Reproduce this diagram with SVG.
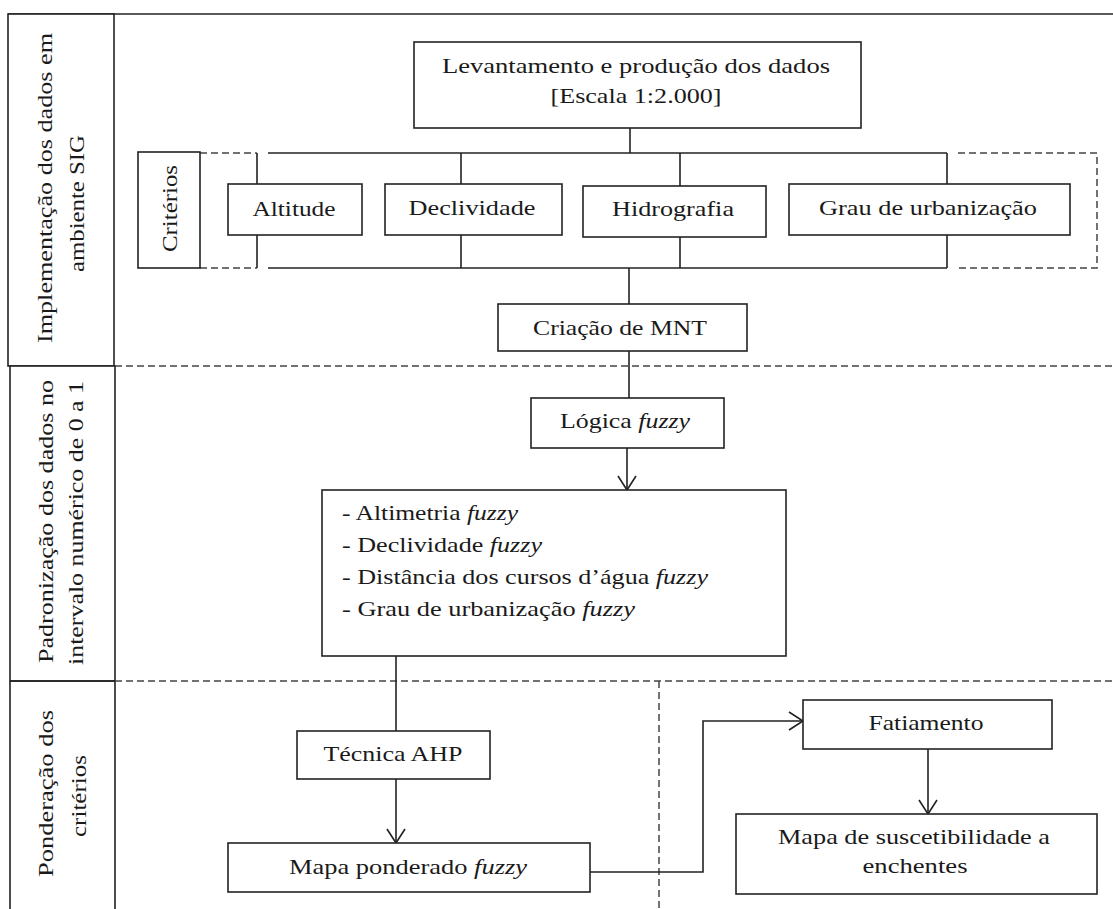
<svg xmlns="http://www.w3.org/2000/svg" width="1113" height="909" viewBox="0 0 1113 909">
<style>
  .box{fill:#fff;stroke:#222;stroke-width:1.6}
  .ln{fill:none;stroke:#222;stroke-width:1.6}
  .dash{fill:none;stroke:#444;stroke-width:1.5;stroke-dasharray:7 4}
  .t{font-family:'Liberation Serif','Times New Roman',Times,serif;font-size:22px;fill:#1a1a1a}
  .c{text-anchor:middle}
  .i{font-style:italic}
</style>
<defs>
  <marker id="arr" markerUnits="userSpaceOnUse" markerWidth="20" markerHeight="22" viewBox="-16 -11 18 22" refX="0" refY="0" orient="auto">
    <path d="M-14,-9 L0,0 L-14,9" fill="none" stroke="#222" stroke-width="1.6"/>
  </marker>
</defs>
<rect width="1113" height="909" fill="#fff"/>

<g id="frame">
  <line class="ln" x1="8" y1="14" x2="1113" y2="14"/>
  <rect class="box" x="8" y="14" width="106" height="352"/>
  <rect class="box" x="10" y="366" width="105" height="315"/>
  <path class="ln" d="M10,681 H115 M10,681 V909 M115,681 V909"/>
  <line class="dash" x1="115" y1="366" x2="1113" y2="366"/>
  <line class="dash" x1="115" y1="681" x2="1113" y2="681"/>
  <line class="dash" x1="659" y1="681" x2="659" y2="909"/>
</g>

<g id="lane1">
  <text class="t" transform="translate(52,343) rotate(-90)" textLength="310" lengthAdjust="spacingAndGlyphs">Implementação dos dados em</text>
  <text class="t" transform="translate(84,272) rotate(-90)" textLength="137" lengthAdjust="spacingAndGlyphs">ambiente SIG</text>
</g>
<g id="lane2">
  <text class="t" transform="translate(53,663) rotate(-90)" textLength="283" lengthAdjust="spacingAndGlyphs">Padronização dos dados no</text>
  <text class="t" transform="translate(83,665) rotate(-90)" textLength="284" lengthAdjust="spacingAndGlyphs">intervalo numérico de 0 a 1</text>
</g>
<g id="lane3">
  <text class="t" transform="translate(53,877) rotate(-90)" textLength="167" lengthAdjust="spacingAndGlyphs">Ponderação dos</text>
  <text class="t" transform="translate(86,837) rotate(-90)" textLength="82" lengthAdjust="spacingAndGlyphs">critérios</text>
</g>

<g id="connectors">
  <line class="ln" x1="630" y1="128" x2="630" y2="153"/>
  <line class="ln" x1="268" y1="153" x2="947" y2="153"/>
  <line class="ln" x1="268" y1="268" x2="947" y2="268"/>
  <path class="dash" d="M200,153 H257 M200,268 H257"/>
  <path class="dash" d="M958,153 H1097 V268 H958"/>
  <path class="ln" d="M257,153 V184 M257,235 V268"/>
  <path class="ln" d="M461,153 V184 M461,235 V268"/>
  <path class="ln" d="M680,153 V186 M680,237 V268"/>
  <path class="ln" d="M947,153 V184 M947,235 V268"/>
  <line class="ln" x1="629" y1="268" x2="629" y2="304"/>
  <line class="ln" x1="629" y1="351" x2="629" y2="398"/>
  <line class="ln" x1="627" y1="448" x2="627" y2="490" marker-end="url(#arr)"/>
  <line class="ln" x1="396" y1="656" x2="396" y2="731"/>
  <line class="ln" x1="396" y1="779" x2="396" y2="843" marker-end="url(#arr)"/>
  <path class="ln" d="M590,872 H703 V721 H803" marker-end="url(#arr)"/>
  <line class="ln" x1="928" y1="749" x2="928" y2="814" marker-end="url(#arr)"/>
</g>

<g id="levantamento">
  <rect class="box" x="414" y="42" width="447" height="86"/>
  <text class="t c" x="636" y="73" textLength="388" lengthAdjust="spacingAndGlyphs">Levantamento e produção dos dados</text>
  <text class="t c" x="636" y="103" textLength="171" lengthAdjust="spacingAndGlyphs">[Escala 1:2.000]</text>
</g>
<g id="criterios">
  <rect class="box" x="138" y="152" width="62" height="116"/>
  <text class="t" transform="translate(177,252) rotate(-90)" textLength="87" lengthAdjust="spacingAndGlyphs">Critérios</text>
</g>
<g id="altitude">
  <rect class="box" x="228" y="184" width="134" height="51"/>
  <text class="t c" x="294" y="216" textLength="83" lengthAdjust="spacingAndGlyphs">Altitude</text>
</g>
<g id="declividade">
  <rect class="box" x="385" y="184" width="177" height="51"/>
  <text class="t c" x="472" y="215" textLength="127" lengthAdjust="spacingAndGlyphs">Declividade</text>
</g>
<g id="hidrografia">
  <rect class="box" x="583" y="186" width="183" height="51"/>
  <text class="t c" x="673" y="216" textLength="122" lengthAdjust="spacingAndGlyphs">Hidrografia</text>
</g>
<g id="grau">
  <rect class="box" x="789" y="184" width="281" height="51"/>
  <text class="t c" x="928" y="215" textLength="218" lengthAdjust="spacingAndGlyphs">Grau de urbanização</text>
</g>
<g id="mnt">
  <rect class="box" x="498" y="304" width="249" height="47"/>
  <text class="t c" x="620" y="335" textLength="174" lengthAdjust="spacingAndGlyphs">Criação de MNT</text>
</g>
<g id="logica">
  <rect class="box" x="531" y="398" width="193" height="50"/>
  <text class="t" x="560" y="428" textLength="130" lengthAdjust="spacingAndGlyphs">Lógica <tspan class="i">fuzzy</tspan></text>
</g>
<g id="padronizados">
  <rect class="box" x="322" y="490" width="464" height="166"/>
  <text class="t" x="342" y="520" textLength="176" lengthAdjust="spacingAndGlyphs">- Altimetria <tspan class="i">fuzzy</tspan></text>
  <text class="t" x="342" y="552" textLength="200" lengthAdjust="spacingAndGlyphs">- Declividade <tspan class="i">fuzzy</tspan></text>
  <text class="t" x="342" y="584" textLength="366" lengthAdjust="spacingAndGlyphs">- Distância dos cursos d’água <tspan class="i">fuzzy</tspan></text>
  <text class="t" x="342" y="616" textLength="293" lengthAdjust="spacingAndGlyphs">- Grau de urbanização <tspan class="i">fuzzy</tspan></text>
</g>
<g id="ahp">
  <rect class="box" x="297" y="731" width="193" height="48"/>
  <text class="t c" x="393" y="761" textLength="139" lengthAdjust="spacingAndGlyphs">Técnica AHP</text>
</g>
<g id="mapa-ponderado">
  <rect class="box" x="228" y="843" width="362" height="49"/>
  <text class="t" x="289" y="874" textLength="238" lengthAdjust="spacingAndGlyphs">Mapa ponderado <tspan class="i">fuzzy</tspan></text>
</g>
<g id="fatiamento">
  <rect class="box" x="803" y="700" width="249" height="49"/>
  <text class="t c" x="926" y="730" textLength="115" lengthAdjust="spacingAndGlyphs">Fatiamento</text>
</g>
<g id="mapa-suscetibilidade">
  <rect class="box" x="736" y="814" width="361" height="80"/>
  <text class="t c" x="914" y="844" textLength="272" lengthAdjust="spacingAndGlyphs">Mapa de suscetibilidade a</text>
  <text class="t c" x="915" y="873" textLength="105" lengthAdjust="spacingAndGlyphs">enchentes</text>
</g>
</svg>
